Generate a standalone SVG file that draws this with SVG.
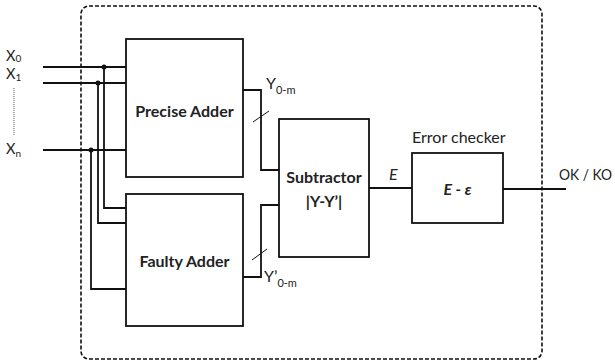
<svg xmlns="http://www.w3.org/2000/svg" width="615" height="361" viewBox="0 0 615 361">
<style>
.box{fill:#fff;stroke:#111;stroke-width:1.8}
.w{fill:none;stroke:#111;stroke-width:1.8}
.t{font-family:Lato,"Liberation Sans",sans-serif;fill:#222}
.b{font-weight:bold;font-size:16px}
.r{font-size:16px}
.x{font-size:14.5px}
.s{font-size:11px}
.xs{font-size:10px}
</style>
<rect id="boundary" x="81" y="6" width="461" height="353" rx="8" fill="none" stroke="#111" stroke-width="1.6" stroke-dasharray="4,2"/>
<g id="connectors">
<path class="w" d="M43,67H126M43,83H126M43,150H126"/>
<path class="w" d="M104,67V208H126M98,83V223H126M91,150V289H126"/>
<circle cx="104" cy="67" r="2.5" fill="#111"/>
<circle cx="98" cy="83" r="2.5" fill="#111"/>
<circle cx="91" cy="150" r="2.5" fill="#111"/>
<path class="w" d="M243,90H261V170H279"/>
<path class="w" d="M243,277H261V205H279"/>
<path d="M253,122L269,111M252,260L267,249" stroke="#111" stroke-width="1"/>
<path class="w" d="M369,188H412"/>
<path class="w" d="M503,189H566"/>
<path d="M14,88V135" stroke="#555" stroke-width="1" stroke-dasharray="1,1"/>
</g>
<g id="inputs" class="t x">
<text x="6" y="61">X<tspan class="xs" dy="1">0</tspan></text>
<text x="6" y="79">X<tspan class="xs" dy="2">1</tspan></text>
<text x="6" y="154">X<tspan class="xs" dy="3">n</tspan></text>
</g>
<g id="precise-adder">
<rect class="box" x="126" y="39" width="117" height="138"/>
<text class="t b" x="184.5" y="117" text-anchor="middle">Precise Adder</text>
</g>
<g id="faulty-adder">
<rect class="box" x="126" y="194" width="117" height="132"/>
<text class="t b" x="184.5" y="267" text-anchor="middle">Faulty Adder</text>
</g>
<g id="subtractor">
<rect class="box" x="279" y="119" width="90" height="138"/>
<text class="t b" x="324" y="183" text-anchor="middle">Subtractor</text>
<text class="t b" x="324" y="207" text-anchor="middle">|Y-Y’|</text>
</g>
<g id="error-checker">
<rect class="box" x="412" y="153" width="91" height="70"/>
<text class="t r" x="412" y="143">Error checker</text>
<text class="t b" x="457.5" y="195" text-anchor="middle" font-style="italic">E - ε</text>
</g>
<g id="labels" class="t r">
<text x="266" y="89">Y<tspan class="s" dy="5">0-m</tspan></text>
<text x="264" y="282">Y’<tspan class="s" dy="5">0-m</tspan></text>
<text x="389" y="180" font-style="italic">E</text>
<text x="559" y="180" font-size="14.5" textLength="53" lengthAdjust="spacingAndGlyphs">OK / KO</text>
</g>
</svg>
